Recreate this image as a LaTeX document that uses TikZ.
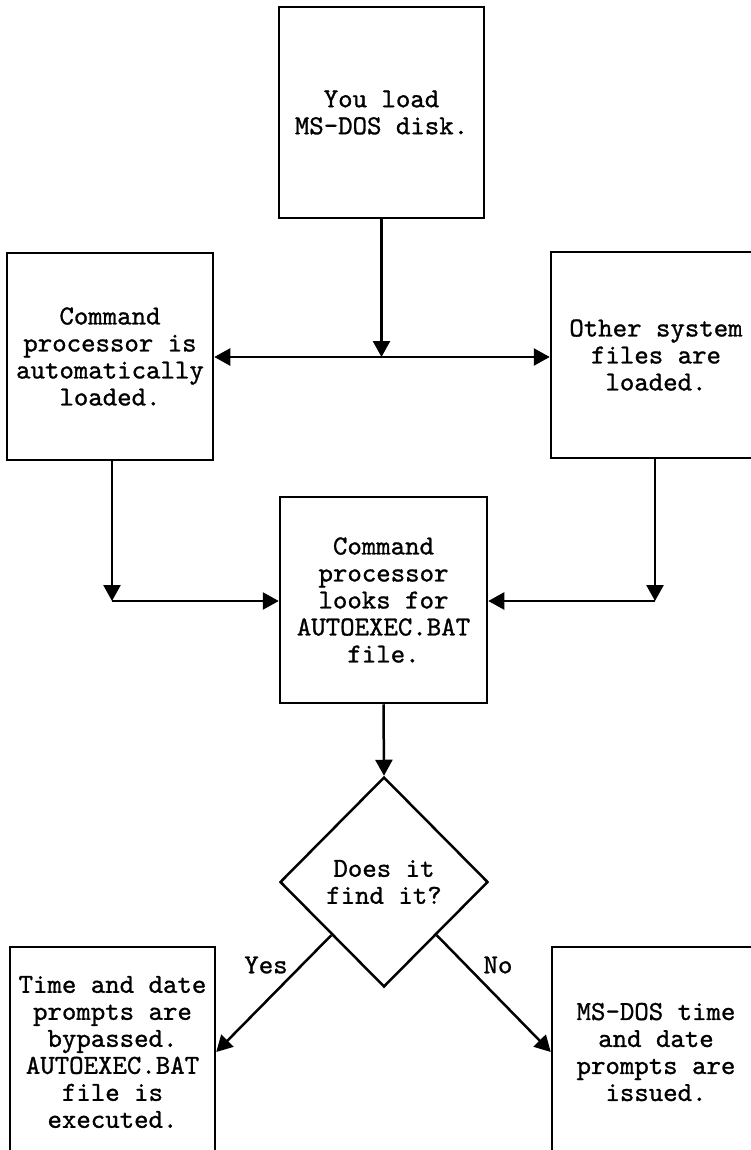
\documentclass[tikz,border=0pt]{standalone}
\usepackage{fontspec}
\newfontfamily\tw[FakeBold=1]{lmmono10-regular.otf}
\usetikzlibrary{shapes.geometric,arrows.meta,calc}
\begin{document}
\begin{tikzpicture}[x=1pt,y=-1pt,
  txt/.style={font=\tw\fontsize{27.5}{27}\selectfont},
  box/.style={txt, draw, line width=2.5pt, rectangle, inner sep=0pt, align=center},
  dia/.style={txt, draw, line width=2.5pt, diamond, inner sep=0pt, align=center,
              minimum width=208pt, minimum height=210pt},
  arr/.style={line width=2.5pt, -{Triangle[length=16pt,width=17pt]}}]
\useasboundingbox (0,0) rectangle (751,1150);
\clip (0,0) rectangle (751,1150);
% boxes
\node[box, minimum width=205pt, minimum height=211pt] (top) at (381.5,112.5) {You load\\MS-DOS disk.};
\node[box, minimum width=206pt, minimum height=207pt] (lb) at (110,356.5) {Command\\processor is\\automatically\\loaded.};
\node[box, minimum width=210pt, minimum height=206pt] (rb) at (656,355) {Other system\\files are\\loaded.};
\node[box, minimum width=207pt, minimum height=206pt] (mid) at (383.5,600) {Command\\processor\\looks for\\AUTOEXEC.BAT\\file.};
\node[dia] (d) at (384,882) {Does it\\find it?};
\node[box, minimum width=205pt, minimum height=210pt] (yb) at (112.5,1052) {Time and date\\prompts are\\bypassed.\\AUTOEXEC.BAT\\file is\\executed.};
\node[box, minimum width=208pt, minimum height=210pt] (nb) at (656,1052) {MS-DOS time\\and date\\prompts are\\issued.};
% labels
\node[txt] (yes) at (266,965) {Yes};
\node[txt] (no) at (498,965) {No};
% connectors
\coordinate (J) at (381.5,357);
\coordinate (L) at (112,601);
\coordinate (R) at (655,601);
\draw[arr] (top.south) -- (J);
\draw[arr] (J) -- (J -| lb.east);
\draw[arr] (J) -- (J -| rb.west);
\draw[arr] (L |- lb.south) -- (L);
\draw[arr] (L) -- (L -| mid.west);
\draw[arr] (R |- rb.south) -- (R);
\draw[arr] (R) -- (R -| mid.east);
\draw[arr] (mid.south) -- (d.north);
\draw[arr] ($(d.west)!0.5!(d.south)$) -- (yb.east);
\draw[arr] ($(d.east)!0.5!(d.south)$) -- (nb.west);
\end{tikzpicture}
\end{document}
